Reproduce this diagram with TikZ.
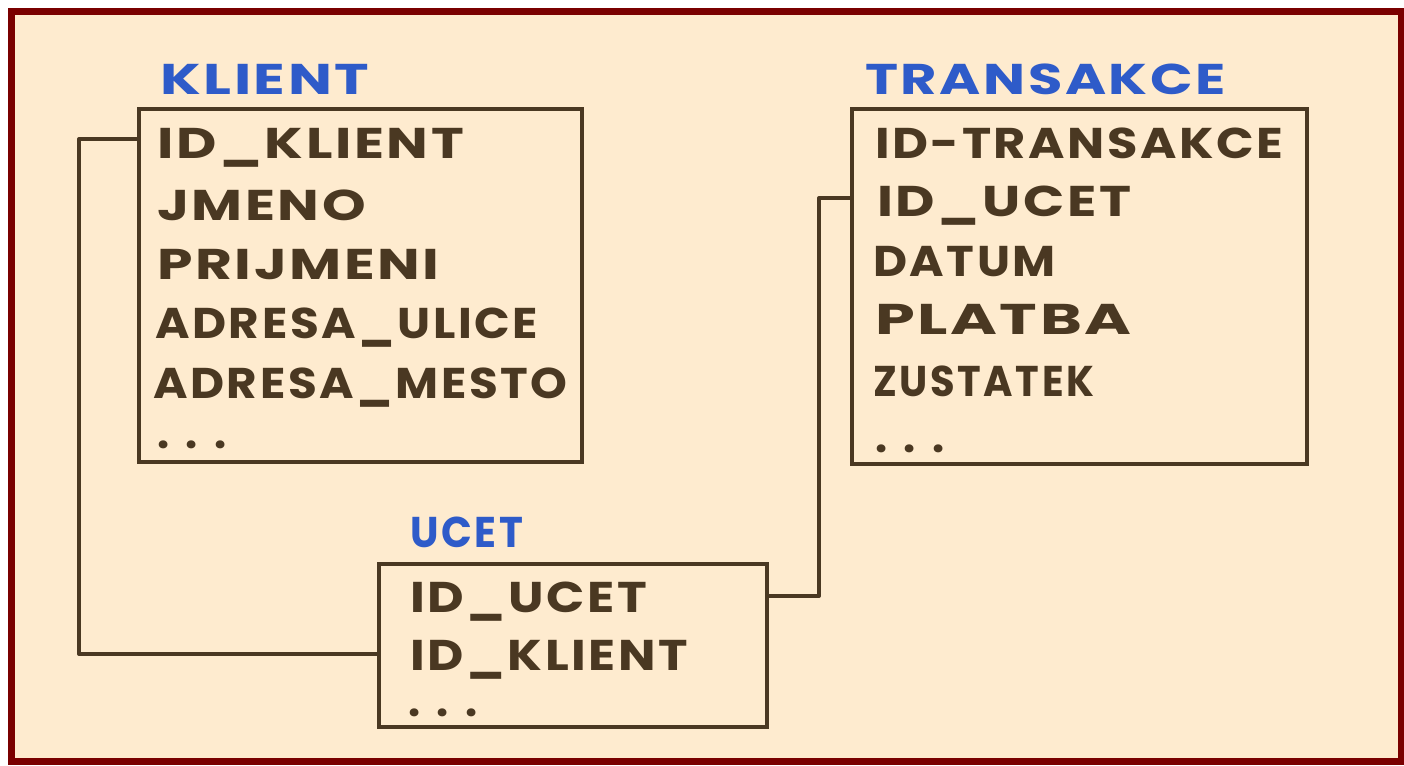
\documentclass[tikz,border=0pt]{standalone}
\usepackage{fontspec}
\setmainfont{Poppins}[LetterSpace=6]
\definecolor{frame}{HTML}{7A0000}
\definecolor{paper}{HTML}{FEEBCF}
\definecolor{ink}{HTML}{4A3822}
\definecolor{bluepen}{HTML}{2E5BC9}
\begin{document}
\begin{tikzpicture}[x=1pt,y=-1pt,
  tablebox/.style={draw=ink,line width=4pt,inner sep=0pt,anchor=north west},
  field/.style={anchor=base west,inner sep=0pt,text=ink,font=\fontsize{43}{43}\selectfont\bfseries\addfontfeature{FakeStretch=#1}},
  field/.default=1,
  dots/.style={anchor=base west,inner sep=0pt,text=ink,font=\fontsize{43}{43}\selectfont\bfseries\addfontfeature{LetterSpace=38}},
  title/.style={anchor=base west,inner sep=0pt,text=bluepen,font=\fontsize{43}{43}\selectfont\bfseries\addfontfeature{FakeStretch=#1}},
  title/.default=1,
  link/.style={draw=ink,line width=4pt,line join=round}]
\useasboundingbox (0,0) rectangle (1404,765);
\fill[white] (0,0) rectangle (1404,765);
\fill[frame] (8,8) rectangle (1404,765);
\fill[paper] (15,15) rectangle (1398,758);

% KLIENT
\node[title=1.36] (tk) at (160,95) {KLIENT};
\node[tablebox,minimum width=443pt,minimum height=353pt] (klient) at (137,107) {};
\node[field=1.29] (k1) at (157,158) {ID\_KLIENT};
\node[field=1.29] (k2) at (157,220) {JMENO};
\node[field=1.32] (k3) at (157,279) {PRIJMENI};
\node[field=1.09] (k4) at (155,338) {ADRESA\_ULICE};
\node[field=1.09] (k5) at (153,398) {ADRESA\_MESTO};
\node[dots] (k6) at (157,448) {...};

% TRANSAKCE
\node[title=1.30] (tt) at (865,95) {TRANSAKCE};
\node[tablebox,minimum width=455pt,minimum height=355pt] (trans) at (850,107) {};
\node[field=1.15] (t1) at (875,158) {ID-TRANSAKCE};
\node[field=1.26] (t2) at (877,216) {ID\_UCET};
\node[field=1.09] (t3) at (873,276) {DATUM};
\node[field=1.48] (t4) at (875,334) {PLATBA};
\node[field=0.93] (t5) at (873,396) {ZUSTATEK};
\node[dots] (t6) at (875,452) {...};

% UCET
\node[title=0.94] (tu) at (410,547) {UCET};
\node[tablebox,minimum width=388pt,minimum height=163pt] (ucet) at (377,562) {};
\node[field=1.17] (u1) at (410,612) {ID\_UCET};
\node[field=1.16] (u2) at (410,670) {ID\_KLIENT};
\node[dots] (u3) at (408,716) {...};

% connectors
\coordinate (c1) at (79,139);
\coordinate (c2) at (79,654);
\coordinate (c3) at (819,596);
\coordinate (c4) at (819,198);
\draw[link] (klient.west |- c1) -- (c1) -- (c2) -- (ucet.west |- c2);
\draw[link] (ucet.east |- c3) -- (c3) -- (c4) -- (trans.west |- c4);
\end{tikzpicture}
\end{document}
